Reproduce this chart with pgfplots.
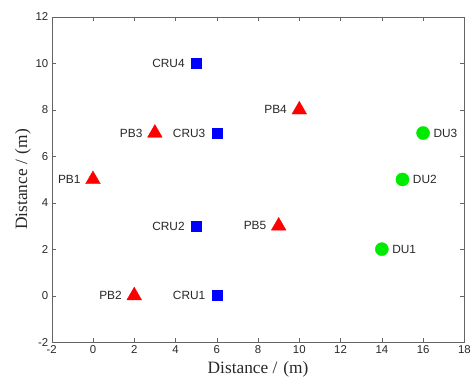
\documentclass[border=0pt]{standalone}
\usepackage{pgfplots}
\pgfplotsset{compat=1.18}
\usepackage{fontspec}
\setmainfont{Liberation Sans}
\newfontfamily\seriffont{Liberation Serif}
\definecolor{axgray}{RGB}{100,100,100}
\definecolor{txtgray}{RGB}{40,40,40}
\begin{document}
\begin{tikzpicture}
\begin{axis}[
  scale only axis,
  width=415bp, height=327bp,
  xmin=-2, xmax=18, ymin=-2, ymax=12,
  xtick={-2,0,...,18}, ytick={-2,0,...,12},
  tick align=inside,
  axis line style={axgray},
  tick style={axgray, major tick length=4bp},
  every tick label/.append style={font=\fontsize{11.5}{12}\selectfont, text=txtgray},
  /pgf/number format/assume math mode=true,
  xlabel={\seriffont Distance /\,\,(m)},
  ylabel={\seriffont Distance /\,\,(m)},
  label style={font=\fontsize{17.5}{18}\selectfont, text=txtgray},
  xlabel style={yshift=-1bp},
  ylabel style={yshift=-2bp},
  nodes near coords,
  point meta=explicit symbolic,
  every node near coord/.append style={font=\fontsize{12}{13}\selectfont, text=txtgray},
]
\addplot[only marks, mark=triangle*, mark size=8.5bp, color=red,
  every node near coord/.append style={anchor=east, xshift=-9bp}]
  table[meta=label] {
x y label
0 5 PB1
2 0 PB2
3 7 PB3
10 8 PB4
9 3 PB5
};
\addplot[only marks, mark=square*, mark size=5bp, color=blue,
  every node near coord/.append style={anchor=east, xshift=-8bp}]
  table[meta=label] {
x y label
6 0 CRU1
5 3 CRU2
6 7 CRU3
5 10 CRU4
};
\addplot[only marks, mark=*, mark size=6.6bp, color={rgb,255:red,0;green,235;blue,0},
  every node near coord/.append style={anchor=west, xshift=7bp}]
  table[meta=label] {
x y label
14 2 DU1
15 5 DU2
16 7 DU3
};
\end{axis}
\useasboundingbox ([shift={(-52bp,-41bp)}]current axis.south west) rectangle ([shift={(7bp,17bp)}]current axis.north east);
\end{tikzpicture}
\end{document}
